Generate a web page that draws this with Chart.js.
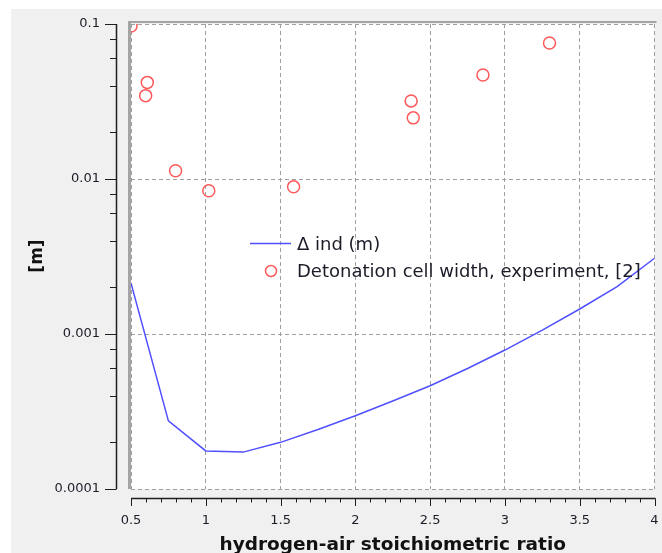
<!DOCTYPE html>
<html>
<head>
<meta charset="utf-8">
<script src="https://cdn.jsdelivr.net/npm/chart.js@4.4.1/dist/chart.umd.min.js"></script>
<style>
html,body{margin:0;padding:0;background:#fff;}
#wrap{width:662px;height:553px;position:relative;}
</style>
</head>
<body>
<div id="wrap"><canvas id="c" width="662" height="553"></canvas></div>
<script>
// ---- data ----
const stoichRatio = [0.5, 0.75, 1.0, 1.25, 1.5, 1.75, 2.0, 2.25, 2.5, 2.75, 3.0, 3.25, 3.5, 3.75, 4.0];
const inductionLength = [0.00213, 0.000275, 0.000176, 0.000173, 0.000200, 0.000242, 0.000297, 0.000370, 0.000464, 0.000599, 0.000788, 0.00106, 0.00145, 0.00202, 0.00308];
const expRatio = [0.5, 0.609, 0.598, 0.798, 1.02, 1.587, 2.373, 2.387, 2.853, 3.298];
const expCellWidth = [0.097, 0.042, 0.0345, 0.0113, 0.0084, 0.0089, 0.0319, 0.0248, 0.0469, 0.0754];
const xTickValues = [0.5, 1, 1.5, 2, 2.5, 3, 3.5, 4];
const xTickLabels = ['0.5', '1', '1.5', '2', '2.5', '3', '3.5', '4'];
const xMinorValues = [0.6,0.7,0.8,0.9,1.1,1.2,1.3,1.4,1.6,1.7,1.8,1.9,2.1,2.2,2.3,2.4,2.6,2.7,2.8,2.9,3.1,3.2,3.3,3.4,3.6,3.7,3.8,3.9];
const yTickValues = [0.0001, 0.001, 0.01, 0.1];
const yTickLabels = ['0.0001', '0.001', '0.01', '0.1'];
const yMinorValues = [0.0002,0.0004,0.0006,0.0008,0.002,0.004,0.006,0.008,0.02,0.04,0.06,0.08];
const seriesLabels = ['\u0394 ind (m)', 'Detonation cell width, experiment, [2]'];
const xTitle = 'hydrogen-air stoichiometric ratio';
const yTitle = '[m]';

const BLUE = '#5050ff';
const RED = '#ff5a5a';
const GRID = '#a0a0a0';
const AXIS = '#1e1e1e';
const TEXT = '#1c1c28';

const lineData = stoichRatio.map((x, i) => ({x: x, y: inductionLength[i]}));
const expData = expRatio.map((x, i) => ({x: x, y: expCellWidth[i]}));

function zeroPad(s) { s.paddingLeft = 0; s.paddingRight = 0; s.paddingTop = 0; s.paddingBottom = 0; }

const decor = {
  id: 'decor',
  beforeDraw(chart) {
    const {ctx, chartArea: a, width, height} = chart;
    ctx.save();
    ctx.fillStyle = '#ffffff';
    ctx.fillRect(0, 0, width, height);
    ctx.fillStyle = '#f0f0f0';
    ctx.fillRect(11, 9, width - 11, height - 9);
    ctx.fillStyle = '#ffffff';
    ctx.fillRect(a.left, a.top, a.right - a.left, a.bottom - a.top);
    ctx.fillStyle = '#a4a4a4';
    ctx.fillRect(a.left - 3, a.top - 3, 3, a.bottom - a.top + 3);
    ctx.fillRect(a.left - 3, a.top - 3, a.right - a.left + 5, 2);
    ctx.restore();
  },
  afterDraw(chart) {
    const {ctx, chartArea: a} = chart;
    const xs = chart.scales.x, ys = chart.scales.y;
    ctx.save();
    ctx.strokeStyle = AXIS;
    ctx.lineWidth = 1.5;
    // y axis line and ticks
    const yAx = 116.5;
    ctx.beginPath();
    ctx.moveTo(yAx, ys.getPixelForValue(0.1));
    ctx.lineTo(yAx, ys.getPixelForValue(0.0001));
    ctx.stroke();
    ctx.lineWidth = 1;
    ctx.beginPath();
    yTickValues.forEach(v => { const p = Math.round(ys.getPixelForValue(v)) + 0.5; ctx.moveTo(105, p); ctx.lineTo(yAx, p); });
    yMinorValues.forEach(v => { const p = Math.round(ys.getPixelForValue(v)) + 0.5; ctx.moveTo(110, p); ctx.lineTo(yAx, p); });
    ctx.stroke();
    // x axis line and ticks
    const xAx = 498.5;
    ctx.lineWidth = 1.5;
    ctx.beginPath();
    ctx.moveTo(xs.getPixelForValue(0.5), xAx);
    ctx.lineTo(xs.getPixelForValue(4) + 1, xAx);
    ctx.stroke();
    ctx.lineWidth = 1;
    ctx.beginPath();
    xTickValues.forEach(v => { const p = Math.round(xs.getPixelForValue(v)) + 0.5; ctx.moveTo(p, xAx); ctx.lineTo(p, 506); });
    xMinorValues.forEach(v => { const p = Math.round(xs.getPixelForValue(v)) + 0.5; ctx.moveTo(p, xAx); ctx.lineTo(p, 502.5); });
    ctx.stroke();
    // titles
    ctx.fillStyle = '#111';
    ctx.font = 'bold 18.5px "DejaVu Sans"';
    ctx.textAlign = 'center';
    ctx.textBaseline = 'alphabetic';
    ctx.fillText(xTitle, (a.left + a.right) / 2, 550);
    ctx.save();
    ctx.translate(38, 256);
    ctx.rotate(-Math.PI / 2);
    ctx.font = 'bold 17px "DejaVu Sans"';
    ctx.textBaseline = 'middle';
    ctx.fillText(yTitle, 0, 0);
    ctx.restore();
    // legend
    ctx.strokeStyle = BLUE;
    ctx.lineWidth = 1.5;
    ctx.beginPath();
    ctx.moveTo(250, 243.5);
    ctx.lineTo(291, 243.5);
    ctx.stroke();
    ctx.strokeStyle = RED;
    ctx.beginPath();
    ctx.arc(271, 271, 5.5, 0, Math.PI * 2);
    ctx.stroke();
    ctx.fillStyle = TEXT;
    ctx.font = '18px "DejaVu Sans"';
    ctx.textAlign = 'left';
    ctx.textBaseline = 'middle';
    ctx.fillText(seriesLabels[0], 297, 245);
    ctx.fillText(seriesLabels[1], 297, 272);
    ctx.restore();
  }
};

new Chart(document.getElementById('c'), {
  type: 'scatter',
  data: {
    datasets: [
      {
        label: seriesLabels[0],
        data: lineData,
        showLine: true,
        borderColor: BLUE,
        borderWidth: 1.5,
        pointRadius: 0,
        tension: 0,
        clip: 0
      },
      {
        label: seriesLabels[1],
        data: expData,
        showLine: false,
        pointStyle: 'circle',
        pointRadius: 6,
        borderColor: RED,
        backgroundColor: 'rgba(255,255,255,0)',
        borderWidth: 1.5,
        clip: 0
      }
    ]
  },
  options: {
    responsive: false,
    animation: false,
    devicePixelRatio: 1,
    layout: {padding: {left: 0, top: 24, right: 6, bottom: 0}},
    plugins: {legend: {display: false}, tooltip: {enabled: false}},
    events: [],
    scales: {
      x: {
        type: 'linear',
        min: 0.5,
        max: 4,
        afterBuildTicks: s => { s.ticks = xTickValues.map(v => ({value: v})); },
        afterFit: s => { s.height = 64; zeroPad(s); },
        ticks: {
          autoSkip: false,
          maxRotation: 0,
          padding: 24,
          color: TEXT,
          font: {family: '"DejaVu Sans"', size: 13},
          callback: (v) => { const i = xTickValues.indexOf(v); return i >= 0 ? xTickLabels[i] : ''; }
        },
        grid: {color: GRID, lineWidth: 1, drawTicks: false},
        border: {display: false, dash: [4, 3]}
      },
      y: {
        type: 'logarithmic',
        min: 0.0001,
        max: 0.1,
        afterBuildTicks: s => { s.ticks = yTickValues.map(v => ({value: v})); },
        afterFit: s => { s.width = 131; zeroPad(s); },
        ticks: {
          autoSkip: false,
          padding: 31,
          color: TEXT,
          font: {family: '"DejaVu Sans"', size: 13},
          callback: (v) => { const i = yTickValues.findIndex(t => Math.abs(t - v) / t < 1e-6); return i >= 0 ? yTickLabels[i] : ''; }
        },
        grid: {color: GRID, lineWidth: 1, drawTicks: false},
        border: {display: false, dash: [4, 3]}
      }
    }
  },
  plugins: [decor]
});
</script>
</body>
</html>
